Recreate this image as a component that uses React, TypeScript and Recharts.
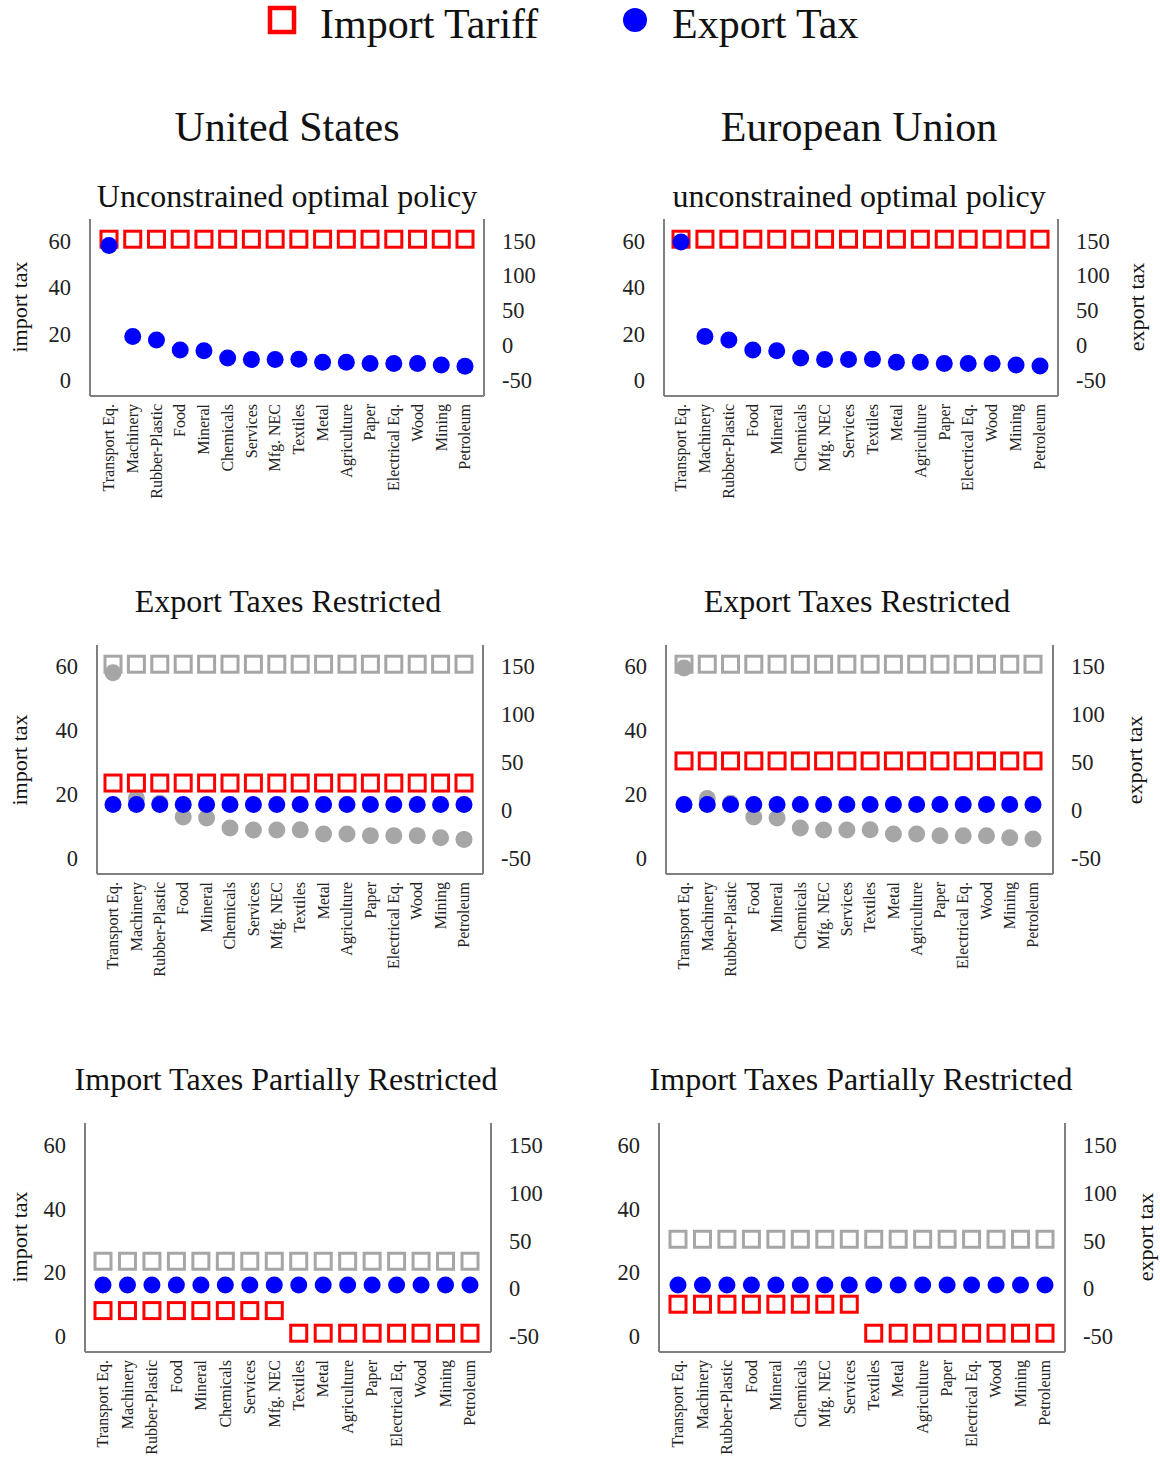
import React from 'react'
import { ComposedChart, Scatter, XAxis, YAxis } from 'recharts'

const SERIF = '"Liberation Serif", "Times New Roman", serif'
const AXIS = '#808080'
const RED = '#ff0000'
const BLUE = '#0000ff'
const GRAY = '#a6a6a6'

const usSectors = ['Transport Eq.', 'Machinery', 'Rubber-Plastic', 'Food', 'Mineral', 'Chemicals', 'Services', 'Mfg. NEC', 'Textiles', 'Metal', 'Agriculture', 'Paper', 'Electrical Eq.', 'Wood', 'Mining', 'Petroleum']
const euSectors = ['Transport Eq.', 'Machinery', 'Rubber-Plastic', 'Food', 'Mineral', 'Chemicals', 'Mfg. NEC', 'Services', 'Textiles', 'Metal', 'Agriculture', 'Paper', 'Electrical Eq.', 'Wood', 'Mining', 'Petroleum']

// unconstrained optimal policy
const usImportOpt = [60.6, 60.6, 60.6, 60.6, 60.6, 60.6, 60.6, 60.6, 60.6, 60.6, 60.6, 60.6, 60.6, 60.6, 60.6, 60.6]
const usExportOpt = [143, 12.5, 7.4, -7, -8, -18.4, -20.6, -20.6, -20.4, -24.6, -24.6, -26.4, -26.4, -26.4, -28.5, -30.3]
const euImportOpt = [60.6, 60.6, 60.6, 60.6, 60.6, 60.6, 60.6, 60.6, 60.6, 60.6, 60.6, 60.6, 60.6, 60.6, 60.6, 60.6]
const euExportOpt = [148, 12.3, 7.4, -7, -8, -18.5, -20.5, -20.5, -20.3, -24.6, -24.6, -26.5, -26.5, -26.5, -28.5, -30]

// export taxes restricted
const usImportExR = [23.5, 23.5, 23.5, 23.5, 23.5, 23.5, 23.5, 23.5, 23.5, 23.5, 23.5, 23.5, 23.5, 23.5, 23.5, 23.5]
const usExportExR = [6, 6, 6, 6, 6, 6, 6, 6, 6, 6, 6, 6, 6, 6, 6, 6]
const euImportExR = [30.4, 30.4, 30.4, 30.4, 30.4, 30.4, 30.4, 30.4, 30.4, 30.4, 30.4, 30.4, 30.4, 30.4, 30.4, 30.4]
const euExportExR = [6, 6, 6, 6, 6, 6, 6, 6, 6, 6, 6, 6, 6, 6, 6, 6]

// import taxes partially restricted
const usImportPart = [8, 8, 8, 8, 8, 8, 8, 8, 0.9, 0.9, 0.9, 0.9, 0.9, 0.9, 0.9, 0.9]
const usExportPart = [3.5, 3.5, 3.5, 3.5, 3.5, 3.5, 3.5, 3.5, 3.5, 3.5, 3.5, 3.5, 3.5, 3.5, 3.5, 3.5]
const euImportPart = [10, 10, 10, 10, 10, 10, 10, 10, 0.9, 0.9, 0.9, 0.9, 0.9, 0.9, 0.9, 0.9]
const euExportPart = [3.5, 3.5, 3.5, 3.5, 3.5, 3.5, 3.5, 3.5, 3.5, 3.5, 3.5, 3.5, 3.5, 3.5, 3.5, 3.5]

const importTicks = [0, 20, 40, 60]
const exportTicks = [-50, 0, 50, 100, 150]

function rows(names: string[], imp: number[], exp: number[], gImp?: number[], gExp?: number[]) {
  return names.map((name, i) => ({
    name,
    imp: imp[i],
    exp: exp[i],
    gImp: gImp ? gImp[i] : undefined,
    gExp: gExp ? gExp[i] : undefined,
  }))
}

const square = (color: string) => (props: any) => {
  const { cx, cy } = props
  if (cx == null || cy == null || isNaN(cy)) return <g />
  return <rect x={cx - 8} y={cy - 8} width={16} height={16} fill="none" stroke={color} strokeWidth={3} />
}
const dot = (color: string) => (props: any) => {
  const { cx, cy } = props
  if (cx == null || cy == null || isNaN(cy)) return <g />
  return <circle cx={cx} cy={cy} r={8.5} fill={color} />
}

const SectorTick = (props: any) => {
  const { x, y, payload } = props
  return (
    <text x={x} y={y} transform={`rotate(-90 ${x} ${y})`} textAnchor="end" dy="0.33em"
      fontSize={16} fontFamily={SERIF} fill="#222">
      {payload.value}
    </text>
  )
}

// right axis (export tax) is a rescaled copy of the left one: 0 -> -50, 60 -> 150
const toExport = (v: number) => -50 + (v * 10) / 3

function Panel({ x, y, w, h, dom, padL, padR, data, gray }: any) {
  const YA = 70
  const XH = 110
  return (
    <div style={{ position: 'absolute', left: x - YA, top: y - 10 }}>
      <ComposedChart width={w + 2 * YA} height={h + 10 + XH} data={data}
        margin={{ top: 10, right: 0, bottom: 0, left: 0 }}>
        <XAxis dataKey="name" type="category" interval={0} height={XH} padding={{ left: padL, right: padR }}
          tickLine={false} tickSize={0} tickMargin={8} tick={<SectorTick />}
          axisLine={{ stroke: AXIS, strokeWidth: 2 }} />
        <YAxis yAxisId="L" orientation="left" type="number" width={YA} domain={dom} allowDataOverflow
          ticks={importTicks} interval={0} tickLine={false} tickSize={0} tickMargin={19}
          axisLine={{ stroke: AXIS, strokeWidth: 2 }}
          tick={{ fontSize: 22.5, fill: '#222', fontFamily: SERIF }} />
        <YAxis yAxisId="R" orientation="right" type="number" width={YA}
          domain={[toExport(dom[0]), toExport(dom[1])]} allowDataOverflow
          ticks={exportTicks} interval={0} tickLine={false} tickSize={0} tickMargin={18}
          axisLine={{ stroke: AXIS, strokeWidth: 2 }}
          tick={{ fontSize: 22.5, fill: '#222', fontFamily: SERIF, textAnchor: 'start' }} />
        {gray && <Scatter yAxisId="L" dataKey="gImp" shape={square(GRAY)} isAnimationActive={false} />}
        {gray === 'both' && <Scatter yAxisId="R" dataKey="gExp" shape={dot(GRAY)} isAnimationActive={false} />}
        <Scatter yAxisId="L" dataKey="imp" shape={square(RED)} isAnimationActive={false} />
        <Scatter yAxisId="R" dataKey="exp" shape={dot(BLUE)} isAnimationActive={false} />
      </ComposedChart>
    </div>
  )
}

function Title({ cx, top, size, children }: any) {
  return (
    <div style={{ position: 'absolute', left: cx - 350, top, width: 700, textAlign: 'center',
      fontSize: size, lineHeight: 1, fontFamily: SERIF, color: '#111', whiteSpace: 'nowrap' }}>
      {children}
    </div>
  )
}

function AxisTitle({ cx, cy, children }: any) {
  return (
    <div style={{ position: 'absolute', left: cx - 100, top: cy - 11, width: 200, height: 22,
      textAlign: 'center', fontSize: 22, lineHeight: 1, fontFamily: SERIF, color: '#111',
      transform: 'rotate(-90deg)', whiteSpace: 'nowrap' }}>
      {children}
    </div>
  )
}

export default function App() {
  const usTop = rows(usSectors, usImportOpt, usExportOpt)
  const euTop = rows(euSectors, euImportOpt, euExportOpt)
  const usMid = rows(usSectors, usImportExR, usExportExR, usImportOpt, usExportOpt)
  const euMid = rows(euSectors, euImportExR, euExportExR, euImportOpt, euExportOpt)
  const usBot = rows(usSectors, usImportPart, usExportPart, usImportExR)
  const euBot = rows(euSectors, euImportPart, euExportPart, euImportExR)

  return (
    <div style={{ position: 'absolute', left: 0, top: 0, width: 1160, height: 1459, background: '#fff',
      fontFamily: SERIF, overflow: 'hidden' }}>
      {/* legend */}
      <svg style={{ position: 'absolute', left: 0, top: 0 }} width={1160} height={50}>
        <rect x={270} y={8} width={24} height={24} fill="none" stroke={RED} strokeWidth={4.5} />
        <circle cx={635} cy={20} r={12} fill={BLUE} />
      </svg>
      <div style={{ position: 'absolute', left: 320, top: 3, fontSize: 42, lineHeight: 1, color: '#111' }}>Import Tariff</div>
      <div style={{ position: 'absolute', left: 672, top: 3, fontSize: 42, lineHeight: 1, color: '#111' }}>Export Tax</div>

      <Title cx={287} top={106} size={42}>United States</Title>
      <Title cx={859} top={106} size={42}>European Union</Title>
      <Title cx={287} top={180} size={32}>Unconstrained optimal policy</Title>
      <Title cx={859} top={180} size={32}>unconstrained optimal policy</Title>
      <Title cx={288} top={585} size={32}>Export Taxes Restricted</Title>
      <Title cx={857} top={585} size={32}>Export Taxes Restricted</Title>
      <Title cx={286} top={1063} size={32}>Import Taxes Partially Restricted</Title>
      <Title cx={861} top={1063} size={32}>Import Taxes Partially Restricted</Title>

      <AxisTitle cx={20} cy={307}>import tax</AxisTitle>
      <AxisTitle cx={20} cy={760}>import tax</AxisTitle>
      <AxisTitle cx={20} cy={1237}>import tax</AxisTitle>
      <AxisTitle cx={1137} cy={307}>export tax</AxisTitle>
      <AxisTitle cx={1135} cy={760}>export tax</AxisTitle>
      <AxisTitle cx={1146} cy={1237}>export tax</AxisTitle>

      <Panel x={90} y={219} w={394} h={177} dom={[-6.9, 69.3]} padL={19} padR={19} data={usTop} />
      <Panel x={664} y={219} w={394} h={177} dom={[-6.9, 69.3]} padL={17} padR={18} data={euTop} />
      <Panel x={97} y={645} w={386} h={229} dom={[-4.9, 66.6]} padL={16} padR={19} data={usMid} gray="both" />
      <Panel x={666} y={645} w={387} h={229} dom={[-4.9, 66.6]} padL={18} padR={20} data={euMid} gray="both" />
      <Panel x={85} y={1123} w={406} h={229} dom={[-5, 66.9]} padL={18} padR={21} data={usBot} gray="sq" />
      <Panel x={659} y={1123} w={406} h={229} dom={[-5, 66.9]} padL={19} padR={20} data={euBot} gray="sq" />
    </div>
  )
}
